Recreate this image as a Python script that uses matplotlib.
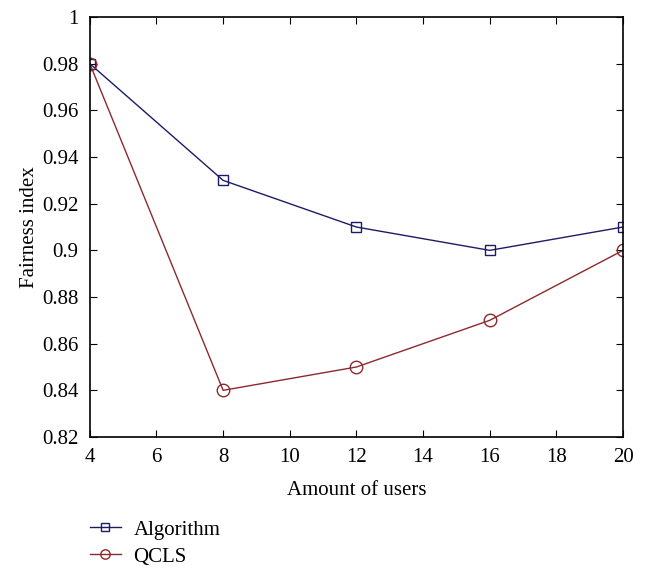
import matplotlib.pyplot as plt

# ---------- data ----------
users = [4, 8, 12, 16, 20]
algorithm = [0.98, 0.93, 0.91, 0.90, 0.91]
qcls = [0.98, 0.84, 0.85, 0.87, 0.90]

plt.rcParams['font.family'] = ['Liberation Serif', 'DejaVu Serif']

fig = plt.figure(figsize=(6.51, 5.69), dpi=100)
ax = fig.add_axes([0.138, 0.232, 0.819, 0.738])

l1, = ax.plot(users, algorithm, '-s', color='#1c1c66', lw=1.0, ms=7,
              mfc='none', mec='#1c1c66', mew=1.0, label='Algorithm')
l2, = ax.plot(users, qcls, '-o', color='#8b2a2e', lw=1.0, ms=9,
              mfc='none', mec='#8b2a2e', mew=1.0, label='QCLS')

ax.set_xlim(4, 20)
ax.set_ylim(0.82, 1.0)
ax.set_xticks(range(4, 21, 2))
ax.set_yticks([0.82, 0.84, 0.86, 0.88, 0.9, 0.92, 0.94, 0.96, 0.98, 1])
ax.set_yticklabels(['0.82', '0.84', '0.86', '0.88', '0.9', '0.92', '0.94', '0.96', '0.98', '1'])
ax.tick_params(direction='in', top=True, right=True, labelsize=15, length=5, pad=8)
for s in ax.spines.values():
    s.set_linewidth(1.2)

ax.set_xlabel('Amount of users', fontsize=15, labelpad=10)
ax.set_ylabel('Fairness index', fontsize=15, labelpad=2)

fig.legend(handles=[l1, l2], loc='upper left', bbox_to_anchor=(0.138, 0.086),
           frameon=False, fontsize=15, handlelength=1.5, handletextpad=0.6,
           labelspacing=0.35, markerscale=0.75, borderaxespad=0, borderpad=0)

fig.savefig('out.png', dpi=100, facecolor='white')
